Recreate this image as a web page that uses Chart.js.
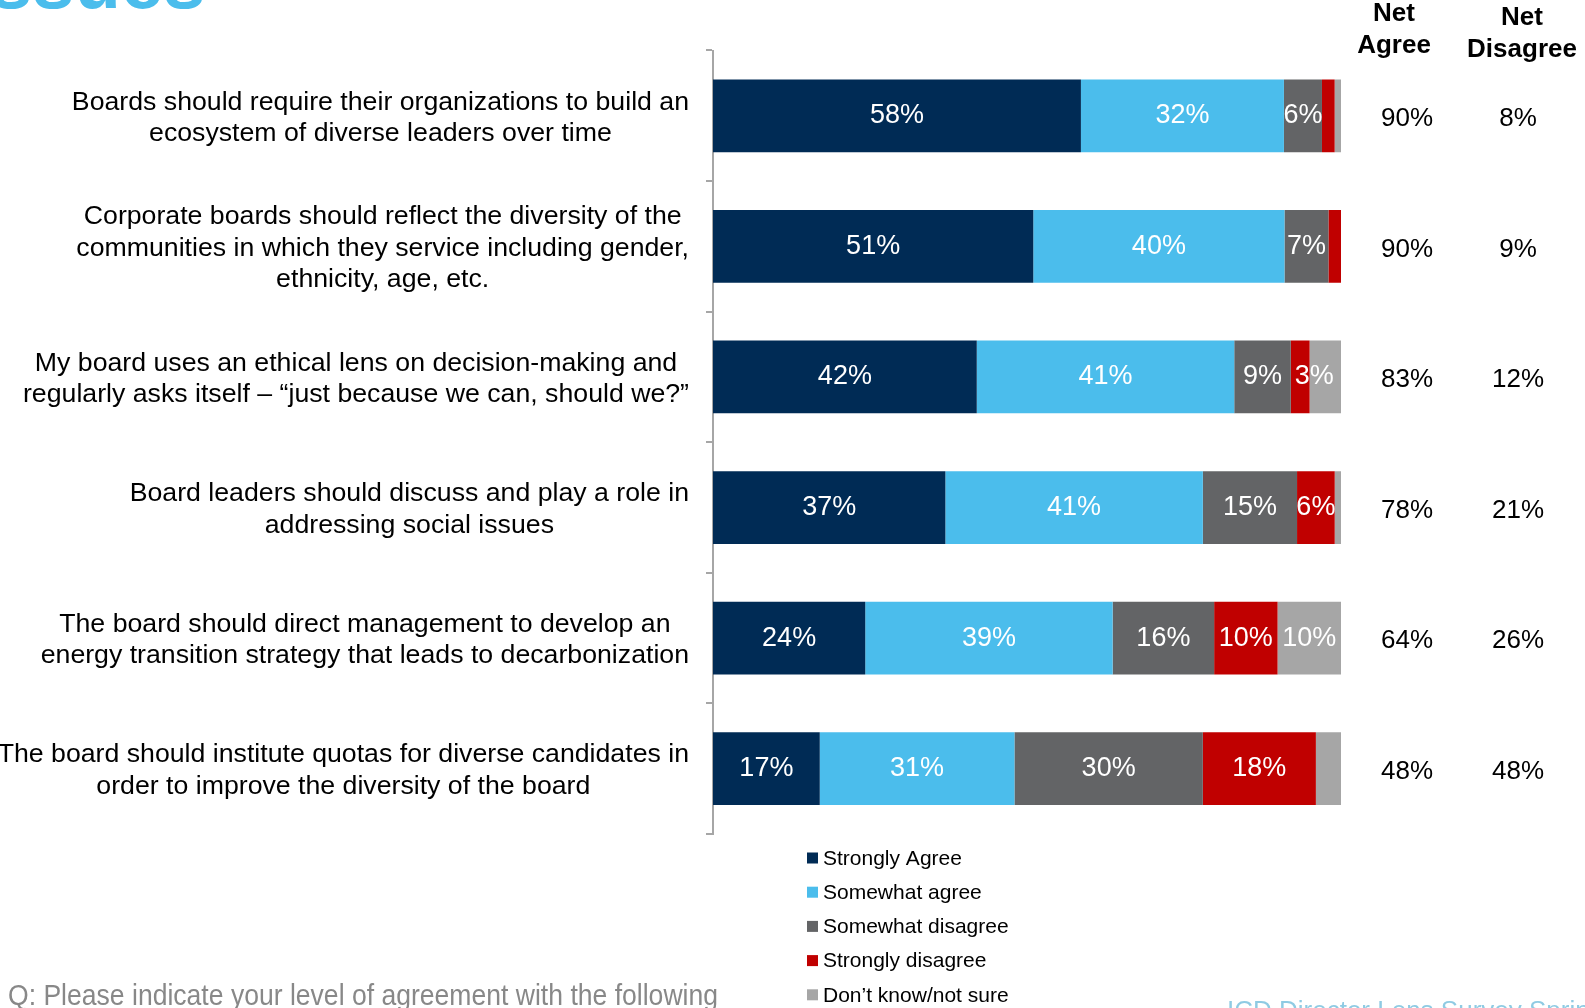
<!DOCTYPE html>
<html>
<head>
<meta charset="utf-8">
<title>Board views on governance and social issues</title>
<script src="https://cdn.jsdelivr.net/npm/chart.js@4.4.0/dist/chart.umd.min.js"></script>
<style>
  html, body { margin: 0; padding: 0; background: #fff; overflow: hidden; }
  canvas { display: block; }
</style>
</head>
<body>
<canvas id="chart" width="1585" height="1008"></canvas>
<script>
// statements, one entry per bar, split into the lines they are printed on
const statements = [
  ['Boards should require their organizations to build an', 'ecosystem of diverse leaders over time'],
  ['Corporate boards should reflect the diversity of the', 'communities in which they service including gender,', 'ethnicity, age, etc.'],
  ['My board uses an ethical lens on decision-making and', 'regularly asks itself \u2013 \u201cjust because we can, should we?\u201d'],
  ['Board leaders should discuss and play a role in', 'addressing social issues'],
  ['The board should direct management to develop an', 'energy transition strategy that leads to decarbonization'],
  ['The board should institute quotas for diverse candidates in', 'order to improve the diversity of the board']
];

// answer shares in %
const stronglyAgree    = [58, 51, 42, 37, 24, 17];
const somewhatAgree    = [32, 40, 41, 41, 39, 31];
const somewhatDisagree = [6, 7, 9, 15, 16, 30];
const stronglyDisagree = [2, 2, 3, 6, 10, 18];
const notSure          = [1, 0, 5, 1, 10, 4];

const netAgree    = [90, 90, 83, 78, 64, 48];
const netDisagree = [8, 9, 12, 21, 26, 48];

const seriesNames  = ['Strongly Agree', 'Somewhat agree', 'Somewhat disagree', 'Strongly disagree', 'Don\u2019t know/not sure'];
const seriesValues = [stronglyAgree, somewhatAgree, somewhatDisagree, stronglyDisagree, notSure];
const seriesColors = ['#002b55', '#4bbdec', '#636466', '#c00000', '#a6a6a6'];
// smallest share that still gets a label inside its segment
const labelMin     = [1, 1, 1, 3, 10];

const FONT = '"Liberation Sans", Arial, Helvetica, sans-serif';

// each bar fills the full width, like a 100% stacked bar
const rowTotals = statements.map((_, i) => seriesValues.reduce((s, arr) => s + arr[i], 0));

const datasets = seriesNames.map((name, k) => ({
  label: name,
  raw: seriesValues[k],
  data: seriesValues[k].map((v, i) => v / rowTotals[i] * 100),
  backgroundColor: seriesColors[k],
  borderWidth: 0,
  barPercentage: 0.557,
  categoryPercentage: 1
}));

const statementLabels = {
  id: 'statementLabels',
  afterDraw(chart) {
    const ctx = chart.ctx;
    const y = chart.scales.y;
    const right = 689;
    const lineH = 31.3;
    ctx.save();
    ctx.font = '26.7px ' + FONT;
    ctx.fillStyle = '#000';
    ctx.textAlign = 'center';
    ctx.textBaseline = 'middle';
    statements.forEach((lines, i) => {
      const w = Math.max(...lines.map(l => ctx.measureText(l).width));
      const cx = right - w / 2;
      const cy = y.getPixelForValue(i) + 2;
      lines.forEach((l, j) => {
        ctx.fillText(l, cx, cy + (j - (lines.length - 1) / 2) * lineH);
      });
    });
    ctx.restore();
  }
};

const segmentLabels = {
  id: 'segmentLabels',
  afterDatasetsDraw(chart) {
    const ctx = chart.ctx;
    ctx.save();
    ctx.font = '27px ' + FONT;
    ctx.fillStyle = '#fff';
    ctx.textBaseline = 'middle';
    chart.data.datasets.forEach((ds, k) => {
      chart.getDatasetMeta(k).data.forEach((bar, i) => {
        const v = ds.raw[i];
        if (v < labelMin[k]) return;
        const text = v + '%';
        const c = bar.getCenterPoint();
        const segW = Math.abs(bar.x - bar.base);
        const textW = ctx.measureText(text).width;
        // labels much wider than a thin segment start at its left edge
        if (textW - segW > 8) {
          ctx.textAlign = 'left';
          ctx.fillText(text, Math.min(bar.x, bar.base) + 4, c.y);
        } else {
          ctx.textAlign = 'center';
          ctx.fillText(text, c.x, c.y);
        }
      });
    });
    ctx.restore();
  }
};

const netColumns = {
  id: 'netColumns',
  afterDraw(chart) {
    const ctx = chart.ctx;
    const y = chart.scales.y;
    ctx.save();
    ctx.fillStyle = '#000';
    ctx.textAlign = 'center';
    ctx.textBaseline = 'middle';
    ctx.font = 'bold 26px ' + FONT;
    ctx.fillText('Net', 1394, 14);
    ctx.fillText('Agree', 1394, 46);
    ctx.fillText('Net', 1522, 18);
    ctx.fillText('Disagree', 1522, 50);
    ctx.font = '26px ' + FONT;
    netAgree.forEach((v, i) => {
      const cy = y.getPixelForValue(i) + 3;
      ctx.fillText(v + '%', 1407, cy);
      ctx.fillText(netDisagree[i] + '%', 1518, cy);
    });
    ctx.restore();
  }
};

const sideLegend = {
  id: 'sideLegend',
  afterDraw(chart) {
    const ctx = chart.ctx;
    ctx.save();
    ctx.font = '21px ' + FONT;
    ctx.textAlign = 'left';
    ctx.textBaseline = 'middle';
    chart.data.datasets.forEach((ds, k) => {
      const cy = 858 + k * 34.2;
      ctx.fillStyle = ds.backgroundColor;
      ctx.fillRect(807, cy - 5.5, 11, 11);
      ctx.fillStyle = '#000';
      ctx.fillText(ds.label, 823, cy + 1);
    });
    ctx.restore();
  }
};

const pageText = {
  id: 'pageText',
  afterDraw(chart) {
    const ctx = chart.ctx;
    ctx.save();
    ctx.textAlign = 'left';
    ctx.textBaseline = 'alphabetic';
    ctx.fillStyle = '#4bbdec';
    ctx.font = 'bold 76px ' + FONT;
    ctx.fillText('ssues', -10, 8);
    ctx.fillStyle = '#888888';
    ctx.font = '30px ' + FONT;
    ctx.fillText('Q: Please indicate your level of agreement with the following', 8, 1005, 710);
    ctx.fillStyle = '#8fcbe3';
    ctx.font = '26px ' + FONT;
    ctx.fillText('ICD Director Lens Survey Spring 2023', 1227, 1019);
    ctx.restore();
  }
};

new Chart(document.getElementById('chart'), {
  type: 'bar',
  data: { labels: statements.map(l => l.join(' ')), datasets },
  options: {
    indexAxis: 'y',
    responsive: false,
    animation: false,
    layout: { padding: { left: 706, right: 244, top: 50.5, bottom: 174 } },
    scales: {
      x: { stacked: true, min: 0, max: 100, display: false },
      y: {
        stacked: true,
        grid: { offset: true, drawOnChartArea: false, drawTicks: true, tickLength: 7, color: '#a6a6a6', lineWidth: 2 },
        border: { display: true, color: '#a6a6a6', width: 2 },
        ticks: { display: false }
      }
    },
    plugins: { legend: { display: false }, tooltip: { enabled: false } }
  },
  plugins: [statementLabels, segmentLabels, netColumns, sideLegend, pageText]
});
</script>
</body>
</html>
